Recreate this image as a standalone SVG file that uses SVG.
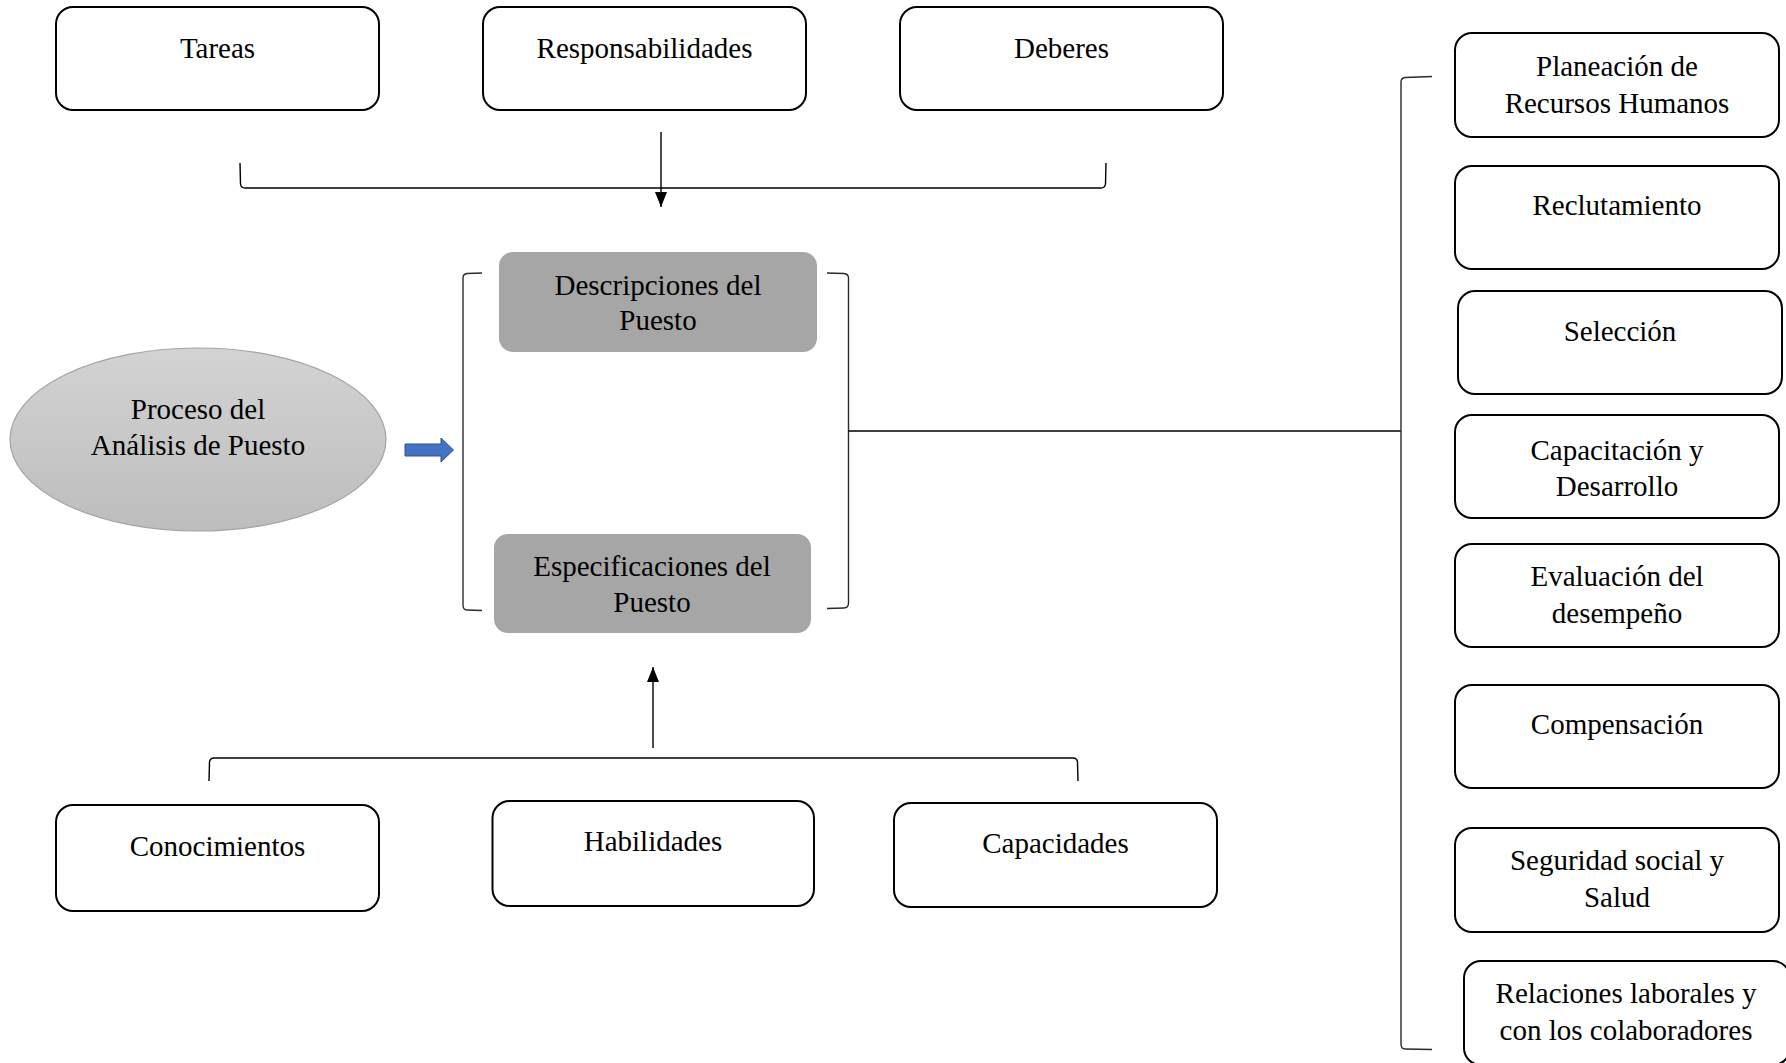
<svg xmlns="http://www.w3.org/2000/svg" width="1786" height="1063" viewBox="0 0 1786 1063">
  <defs>
    <style>
      .box { fill: #ffffff; stroke: #000000; stroke-width: 2; }
      .core { fill: #a6a6a6; stroke: none; }
      .lbl { font-family: "Liberation Serif", "Times New Roman", serif; font-size: 29px; fill: #000000; text-anchor: middle; }
      .wire { fill: none; stroke: #000000; stroke-width: 1.4; }
      .brace { fill: none; stroke: #2b2b2b; stroke-width: 1.4; }
    </style>
    <linearGradient id="ovalFill" x1="0" y1="0" x2="0" y2="1">
      <stop offset="0" stop-color="#d3d3d3"/>
      <stop offset="1" stop-color="#bdbdbd"/>
    </linearGradient>
    <!-- solid triangular head, drawn along the line direction -->
    <marker id="tip" viewBox="0 0 15 12" refX="15" refY="6" markerWidth="15" markerHeight="12" markerUnits="userSpaceOnUse" orient="auto">
      <path d="M0,0 L15,6 L0,12 Z" fill="#000000"/>
    </marker>
  </defs>

  <!-- connectors and brackets -->
  <g id="connectors">
    <!-- top bracket gathering the three duties -->
    <path class="wire" d="M240,163 L240.5,184 Q241,188 245,188 L1101,188 Q1105,188 1105.5,184 L1106,163"/>
    <line class="wire" x1="661" y1="132" x2="661" y2="207" marker-end="url(#tip)"/>
    <!-- bottom bracket gathering the three abilities -->
    <path class="wire" d="M209,781 L209.5,762 Q210,758 214,758 L1073,758 Q1077,758 1077.5,762 L1078,781"/>
    <line class="wire" x1="653" y1="748" x2="653" y2="667" marker-end="url(#tip)"/>
    <!-- brackets around the two results -->
    <path class="brace" d="M482,273 L467,273.5 Q463,274 463,278 L463,605 Q463,610 467,610 L482,610.5"/>
    <path class="brace" d="M827,273 L844,273.5 Q848.5,274 848.5,278 L848.5,603 Q848.5,608 844,608 L827,608.5"/>
    <line class="wire" x1="848.5" y1="431" x2="1401" y2="431"/>
    <!-- right bracket spanning all HR functions -->
    <path class="brace" d="M1432,76.5 L1405,77.5 Q1401,78 1401,82 L1401,1044 Q1401,1049 1405,1049 L1432,1049.5"/>
    <!-- block arrow from the process oval -->
    <path d="M405,444 L441,444 L441,438 L453.5,450 L441,462 L441,456 L405,456 Z" fill="#4472c4" stroke="#2f528f" stroke-width="1"/>
  </g>

  <!-- top row -->
  <g id="tareas">
    <rect class="box" x="56" y="7" width="323" height="103" rx="17"/>
    <text class="lbl" x="217.5" y="58">Tareas</text>
  </g>
  <g id="responsabilidades">
    <rect class="box" x="483" y="7" width="323" height="103" rx="17"/>
    <text class="lbl" x="644.5" y="58">Responsabilidades</text>
  </g>
  <g id="deberes">
    <rect class="box" x="900" y="7" width="323" height="103" rx="17"/>
    <text class="lbl" x="1061.5" y="58">Deberes</text>
  </g>

  <!-- process oval -->
  <g id="proceso">
    <ellipse cx="198" cy="439.5" rx="188" ry="91.5" fill="url(#ovalFill)" stroke="#a3a3a3" stroke-width="1.2"/>
    <text class="lbl" x="198" y="419">Proceso del</text>
    <text class="lbl" x="198" y="455">Análisis de Puesto</text>
  </g>

  <!-- results -->
  <g id="descripciones">
    <rect class="core" x="499" y="252" width="318" height="100" rx="14"/>
    <text class="lbl" x="658" y="295">Descripciones del</text>
    <text class="lbl" x="658" y="330">Puesto</text>
  </g>
  <g id="especificaciones">
    <rect class="core" x="494" y="534" width="317" height="99" rx="14"/>
    <text class="lbl" x="652" y="576">Especificaciones del</text>
    <text class="lbl" x="652" y="612">Puesto</text>
  </g>

  <!-- bottom row -->
  <g id="conocimientos">
    <rect class="box" x="56" y="805" width="323" height="106" rx="17"/>
    <text class="lbl" x="217.5" y="856">Conocimientos</text>
  </g>
  <g id="habilidades">
    <rect class="box" x="492.5" y="801" width="321.5" height="105" rx="17"/>
    <text class="lbl" x="653" y="851">Habilidades</text>
  </g>
  <g id="capacidades">
    <rect class="box" x="894" y="803" width="323" height="104" rx="17"/>
    <text class="lbl" x="1055.5" y="853">Capacidades</text>
  </g>

  <!-- HR functions column -->
  <g id="planeacion">
    <rect class="box" x="1455" y="33" width="324" height="104" rx="17"/>
    <text class="lbl" x="1617" y="76">Planeación de</text>
    <text class="lbl" x="1617" y="113">Recursos Humanos</text>
  </g>
  <g id="reclutamiento">
    <rect class="box" x="1455" y="166" width="324" height="103" rx="17"/>
    <text class="lbl" x="1617" y="215">Reclutamiento</text>
  </g>
  <g id="seleccion">
    <rect class="box" x="1458" y="291" width="324" height="103" rx="17"/>
    <text class="lbl" x="1620" y="341">Selección</text>
  </g>
  <g id="capacitacion">
    <rect class="box" x="1455" y="415" width="324" height="103" rx="17"/>
    <text class="lbl" x="1617" y="460">Capacitación y</text>
    <text class="lbl" x="1617" y="496">Desarrollo</text>
  </g>
  <g id="evaluacion">
    <rect class="box" x="1455" y="544" width="324" height="103" rx="17"/>
    <text class="lbl" x="1617" y="586">Evaluación del</text>
    <text class="lbl" x="1617" y="623">desempeño</text>
  </g>
  <g id="compensacion">
    <rect class="box" x="1455" y="685" width="324" height="103" rx="17"/>
    <text class="lbl" x="1617" y="734">Compensación</text>
  </g>
  <g id="seguridad">
    <rect class="box" x="1455" y="828" width="324" height="104" rx="17"/>
    <text class="lbl" x="1617" y="870">Seguridad social y</text>
    <text class="lbl" x="1617" y="907">Salud</text>
  </g>
  <g id="relaciones">
    <rect class="box" x="1464" y="961" width="326" height="104" rx="17"/>
    <text class="lbl" x="1626" y="1003">Relaciones laborales y</text>
    <text class="lbl" x="1626" y="1040">con los colaboradores</text>
  </g>
</svg>
